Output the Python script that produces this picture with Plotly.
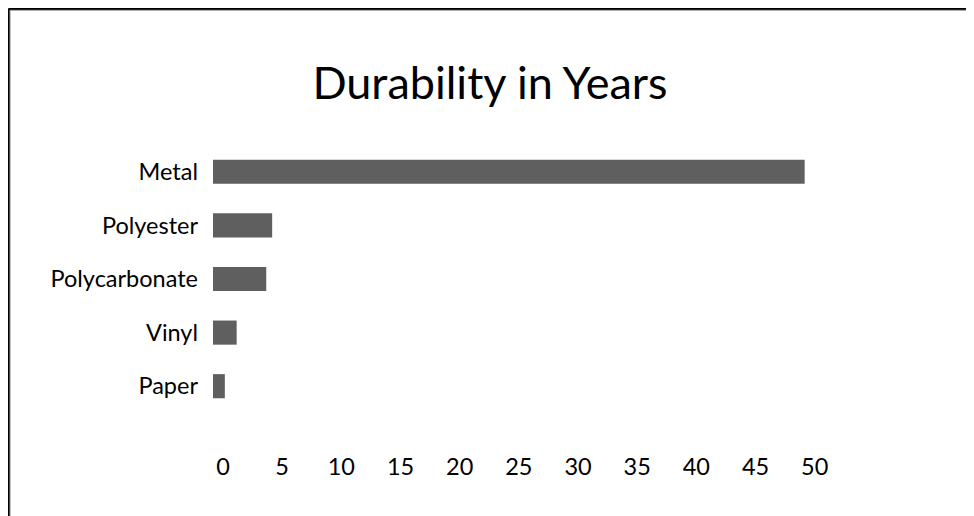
import plotly.graph_objects as go

# Data
materials = ["Metal", "Polyester", "Polycarbonate", "Vinyl", "Paper"]
years = [50, 5, 4.5, 2, 1]
x_ticks = [0, 5, 10, 15, 20, 25, 30, 35, 40, 45, 50]

# Page has an 8px body margin; figure is sized to fit the window.
OFF = 8
W, H = 974 - OFF, 516 - OFF
L, R, T, B = 213 - OFF, 51, 145 - OFF, 103
pw, ph = W - L - R, H - T - B

def px_x(p):
    return (p - L) / pw

def px_y(p):
    return (H - B - p) / ph

FONT = "Lato"
LABEL_SIZE = 23.5

fig = go.Figure(
    go.Bar(
        x=years,
        y=materials,
        orientation="h",
        marker=dict(color="#5f5f5f", line=dict(width=0)),
        width=0.45,
    )
)

fig.update_layout(
    width=W,
    height=H,
    margin=dict(l=L, r=R, t=T, b=B),
    paper_bgcolor="white",
    plot_bgcolor="white",
    showlegend=False,
    font=dict(family=FONT, color="#000000", size=LABEL_SIZE),
    title=dict(
        text="Durability in Years",
        font=dict(family=FONT, size=45, color="#000000"),
        x=(490 - OFF) / W,
        xanchor="center",
        xref="container",
        y=1 - (83 - OFF) / H,
        yanchor="middle",
        yref="container",
    ),
    xaxis=dict(
        range=[0, 60],
        tickvals=x_ticks,
        ticktext=[str(v) for v in x_ticks],
        showgrid=False,
        zeroline=False,
        showline=False,
        ticks="",
        ticklabelstandoff=37,
        ticklabelshift=10,
        tickfont=dict(family=FONT, size=LABEL_SIZE, color="#000000"),
        fixedrange=True,
    ),
    yaxis=dict(
        autorange="reversed",
        showgrid=False,
        zeroline=False,
        showline=False,
        ticks="",
        ticklabelstandoff=14,
        tickfont=dict(family=FONT, size=LABEL_SIZE, color="#000000"),
        fixedrange=True,
    ),
    shapes=[
        dict(type="line", xref="paper", yref="paper",
             x0=px_x(0.5), x1=px_x(W + 10), y0=px_y(0.8), y1=px_y(0.8),
             line=dict(color="#909090", width=4)),
        dict(type="line", xref="paper", yref="paper",
             x0=px_x(0.5), x1=px_x(0.5), y0=px_y(0.8), y1=px_y(H + 10),
             line=dict(color="#909090", width=4)),
        dict(type="line", xref="paper", yref="paper",
             x0=px_x(0.5), x1=px_x(W + 10), y0=px_y(0.8), y1=px_y(0.8),
             line=dict(color="#000000", width=2)),
        dict(type="line", xref="paper", yref="paper",
             x0=px_x(0.5), x1=px_x(0.5), y0=px_y(0.8), y1=px_y(H + 10),
             line=dict(color="#000000", width=2)),
    ],
)

fig.write_html("out.html")
